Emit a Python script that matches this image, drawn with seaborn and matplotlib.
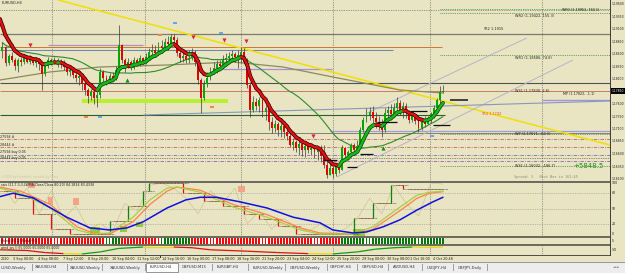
import numpy as np
import pandas as pd
import matplotlib
matplotlib.use("Agg")
import matplotlib.pyplot as plt
import seaborn as sns
from matplotlib.patches import Rectangle
from matplotlib.collections import LineCollection

sns.set_theme(style="white")
plt.rcParams['font.family'] = ['DejaVu Sans']

# ---------------- data (EURUSD H4) ----------------
first_open = 1.1866
closes = [1.1874, 1.1842, 1.1856, 1.1848, 1.1836, 1.1848, 1.1844, 1.1852, 1.1844, 1.1850,
          1.1842, 1.1848, 1.1840, 1.1820, 1.1836, 1.1848, 1.1844, 1.1848, 1.1840, 1.1844,
          1.1834, 1.1824, 1.1828, 1.1818, 1.1812, 1.1816, 1.1800, 1.1788, 1.1776, 1.1784,
          1.1772, 1.1778, 1.1824, 1.1812, 1.1808, 1.1816, 1.1812, 1.1828, 1.1878, 1.1848,
          1.1836, 1.1844, 1.1832, 1.1848, 1.1840, 1.1852, 1.1844, 1.1854, 1.1864, 1.1868,
          1.1862, 1.1876, 1.1872, 1.1884, 1.1880, 1.1894, 1.1888, 1.1862, 1.1852, 1.1856,
          1.1848, 1.1852, 1.1864, 1.1844, 1.1808, 1.1772, 1.1800, 1.1812, 1.1824, 1.1832,
          1.1840, 1.1836, 1.1848, 1.1852, 1.1856, 1.1860, 1.1854, 1.1858, 1.1864, 1.1844,
          1.1798, 1.1748, 1.1764, 1.1756, 1.1768, 1.1744, 1.1752, 1.1724, 1.1712, 1.1720,
          1.1708, 1.1716, 1.1704, 1.1696, 1.1678, 1.1684, 1.1672, 1.1680, 1.1668, 1.1676,
          1.1668, 1.1672, 1.1664, 1.1670, 1.1656, 1.1638, 1.1618, 1.1632, 1.1620, 1.1636,
          1.1628, 1.1672, 1.1658, 1.1664, 1.1678, 1.1668, 1.1676, 1.1708, 1.1728, 1.1738,
          1.1744, 1.1732, 1.1724, 1.1716, 1.1708, 1.1742, 1.1748, 1.1740, 1.1752, 1.1762,
          1.1748, 1.1756, 1.1742, 1.1728, 1.1736, 1.1726, 1.1712, 1.1724, 1.1720, 1.1732,
          1.1740, 1.1752, 1.1768, 1.1784, 1.1786]
highs = [1.1884, 1.1876, 1.1860, 1.1864, 1.1852, 1.1852, 1.1854, 1.1858, 1.1856, 1.1858,
         1.1854, 1.1852, 1.1852, 1.1844, 1.1842, 1.1854, 1.1852, 1.1854, 1.1852, 1.1850,
         1.1848, 1.1840, 1.1836, 1.1830, 1.1824, 1.1822, 1.1818, 1.1804, 1.1792, 1.1790,
         1.1788, 1.1792, 1.1832, 1.1828, 1.1818, 1.1822, 1.1824, 1.1836, 1.1918, 1.1880,
         1.1852, 1.1852, 1.1848, 1.1854, 1.1852, 1.1858, 1.1854, 1.1862, 1.1872, 1.1880,
         1.1878, 1.1884, 1.1888, 1.1892, 1.1896, 1.1900, 1.1900, 1.1894, 1.1868, 1.1864,
         1.1860, 1.1868, 1.1872, 1.1868, 1.1848, 1.1812, 1.1808, 1.1824, 1.1834, 1.1844,
         1.1848, 1.1848, 1.1858, 1.1862, 1.1864, 1.1868, 1.1864, 1.1868, 1.1874, 1.1872,
         1.1852, 1.1804, 1.1776, 1.1772, 1.1774, 1.1774, 1.1758, 1.1754, 1.1734, 1.1728,
         1.1724, 1.1722, 1.1718, 1.1714, 1.1708, 1.1692, 1.1688, 1.1686, 1.1684, 1.1682,
         1.1674, 1.1678, 1.1678, 1.1676, 1.1678, 1.1678, 1.1648, 1.1642, 1.1636, 1.1642,
         1.1642, 1.1678, 1.1674, 1.1668, 1.1682, 1.1682, 1.1688, 1.1714, 1.1734, 1.1752,
         1.1754, 1.1756, 1.1744, 1.1736, 1.1730, 1.1752, 1.1756, 1.1760, 1.1762, 1.1774,
         1.1768, 1.1764, 1.1762, 1.1748, 1.1742, 1.1740, 1.1732, 1.1730, 1.1736, 1.1736,
         1.1744, 1.1758, 1.1772, 1.1796, 1.1798]
lows = [1.1852, 1.1836, 1.1838, 1.1844, 1.1828, 1.1824, 1.1836, 1.1840, 1.1842, 1.1840,
        1.1838, 1.1834, 1.1828, 1.1788, 1.1816, 1.1832, 1.1838, 1.1840, 1.1834, 1.1832,
        1.1828, 1.1818, 1.1816, 1.1812, 1.1804, 1.1798, 1.1788, 1.1778, 1.1762, 1.1768,
        1.1760, 1.1754, 1.1772, 1.1804, 1.1798, 1.1804, 1.1806, 1.1808, 1.1824, 1.1842,
        1.1824, 1.1832, 1.1828, 1.1830, 1.1836, 1.1836, 1.1840, 1.1840, 1.1852, 1.1856,
        1.1856, 1.1858, 1.1864, 1.1868, 1.1868, 1.1876, 1.1880, 1.1856, 1.1844, 1.1844,
        1.1842, 1.1842, 1.1848, 1.1836, 1.1800, 1.1742, 1.1768, 1.1794, 1.1808, 1.1820,
        1.1822, 1.1828, 1.1832, 1.1836, 1.1844, 1.1848, 1.1844, 1.1832, 1.1842, 1.1840,
        1.1792, 1.1734, 1.1744, 1.1748, 1.1744, 1.1734, 1.1728, 1.1708, 1.1702, 1.1704,
        1.1696, 1.1694, 1.1692, 1.1688, 1.1674, 1.1668, 1.1664, 1.1658, 1.1656, 1.1654,
        1.1662, 1.1658, 1.1652, 1.1648, 1.1644, 1.1632, 1.1612, 1.1620, 1.1612, 1.1616,
        1.1622, 1.1628, 1.1648, 1.1648, 1.1654, 1.1658, 1.1664, 1.1672, 1.1704, 1.1724,
        1.1728, 1.1722, 1.1712, 1.1708, 1.1694, 1.1704, 1.1728, 1.1728, 1.1734, 1.1740,
        1.1738, 1.1732, 1.1732, 1.1722, 1.1724, 1.1720, 1.1704, 1.1708, 1.1714, 1.1720,
        1.1722, 1.1732, 1.1744, 1.1762, 1.1782]
current_price = 1.1786
fast_ma_start = 1.1930   # value of the coloured MA at the left edge
slow_ma_start = 1.1884   # value of the green MA at the left edge

# slow (olive) moving average: bar index -> price
olive_idx = [-0.8, 15.5, 31.9, 53.8, 75.3, 91.7, 108.0, 129.9, 144.0]
olive_val = [1.1808, 1.1824, 1.1834, 1.1838, 1.1844, 1.1834, 1.1814, 1.1788, 1.1782]

# horizontal levels (price)
level_prices = [1.1900, 1.1874, 1.1868, 1.1878, 1.1830, 1.1802, 1.1786, 1.1768,
                1.1738, 1.1702, 1.1706]
dash_levels = [1.1690, 1.1674, 1.1658, 1.1646]
pivot_levels = [1.1950, 1.1942, 1.1858, 1.1700, 1.1636]

# trend lines: (start index, start price, end index, end price)
yellow_line = [18.2, 1.1968, 198.6, 1.1678]
channel_a = [109.3, 1.1614, 186.5, 1.1848]
channel_b = [119.2, 1.1742, 171.4, 1.1892]
steel_line = [46.0, 1.1738, 198.6, 1.1766]

# order / target segments: (from index, to index, price)
order_segs = [(122.4, 129.0, 1.1724), (133.2, 138.7, 1.1746), (140.7, 146.3, 1.1718),
              (104.8, 109.3, 1.1648), (112.6, 115.9, 1.1634), (116.8, 121.1, 1.1660)]
target_seg = (146.3, 152.1, 1.1768)

# signal arrows (index, price)
sell_arrows_i = [9.0, 62.3, 72.4, 79.6, 101.5]
sell_arrows_p = [1.1878, 1.1894, 1.1888, 1.1886, 1.1696]
buy_arrows_i = [40.7, 124.4]
buy_arrows_p = [1.1808, 1.1672]
blue_marks_i = [56.4, 71.4, 31.9, 140.4]
blue_marks_p = [1.1922, 1.1902, 1.1734, 1.1696]
orange_marks_i = [51.5, 27.3, 68.5]
orange_marks_p = [1.1898, 1.1734, 1.1754]
zone = (26.0, 73.7, 1.1762, 1.1770)

# main price-axis labels
price_ticks = [1.1960, 1.1935, 1.1910, 1.1885, 1.1860, 1.1835, 1.1810,
               1.1760, 1.1735, 1.1710, 1.1685, 1.1660, 1.1635, 1.1610]

# oscillator (0..100)
blue_i = [-1, 3.5, 10, 21, 28.6, 35, 40.7, 46, 53.8, 60, 64.6, 70, 77.7, 86.5, 95,
          103.8, 108, 114.6, 119, 124.4, 130, 135.5, 140.7, 144]
blue_v = [73, 80, 71, 33, 12, 8, 12, 24, 51, 67, 72, 72, 63, 51, 33, 22, 8, 2, 4, 14,
          28, 47, 63, 72]
sig_i = [-1, 6, 15.6, 24.4, 29.6, 35, 42.7, 48.2, 53.8, 57, 64.6, 75.4, 86.5, 97.3,
         103.8, 114.6, 121, 130, 135.5, 139.7, 144]
green_v = [90, 80, 51, 8, 0, 2, 33, 67, 90, 92, 82, 53, 33, 8, 0, 0, 14, 53, 76, 82, 84]
orange_v = [92, 84, 58, 14, 2, 0, 24, 58, 84, 92, 86, 58, 38, 12, 2, 0, 9, 46, 70, 80, 83]
tan_i = [0, 4, 8, 12, 16, 20, 24, 28, 32, 36, 40, 44, 48, 52, 56, 60, 64, 68, 72, 76, 80,
         84, 88, 92, 96, 100, 104, 108, 112, 116, 120, 124, 128, 132, 136, 140, 144]
tan_v = [95, 60, 90, 40, 85, 30, 55, 10, 20, 5, 60, 45, 95, 100, 90, 70, 40, 85, 60, 90,
         20, 45, 10, 30, 15, 5, 20, 0, 10, 30, 70, 40, 95, 60, 35, 100, 98]
step_i = [-1, 4, 10, 16, 22, 35, 41, 46, 48, 59, 66, 72, 79, 84, 90, 96, 115, 121, 127, 131, 144]
step_v = [85, 70, 40, 10, 0, 25, 55, 85, 100, 80, 65, 55, 40, 30, 15, 0, 31, 61, 96, 88, 88]
salmon_boxes = [(8.4, 10.6, 90, 100), (14.9, 16.5, 59, 72), (23.0, 25.0, 57, 71), (77.0, 79.3, 82, 94)]
lime_boxes = [(28.6, 31.9, 0, 14), (38.4, 40.7, 4, 16), (43.6, 45.9, 14, 24), (114.6, 118.5, -4, 10)]

# trend strip (one letter per bar: R red, G green)
strip = ('R' * 34 + 'G' * 5 + 'R' * 13 + 'G' * 10 + 'R' * 49 + 'G' * 34)

# lower line indicator
small_i = [-1, 8, 14, 20, 26, 32, 38, 46, 56, 62, 68, 74, 80, 90, 100, 108, 116, 122,
           128, 134, 140, 144]
small_v = [0.6, 0.5, 0.2, 0.05, 0.0, 0.3, 0.8, 1.0, 1.0, 0.9, 0.6, 0.5, 0.4, 0.2, 0.05,
           0.0, 0.3, 0.7, 0.9, 1.0, 0.95, 1.0]

time_labels = ["2020", "3 Sep 00:00", "4 Sep 08:00", "7 Sep 12:00", "8 Sep 20:00",
               "10 Sep 04:00", "11 Sep 12:00", "14 Sep 16:00", "16 Sep 00:00",
               "17 Sep 08:00", "18 Sep 16:00", "21 Sep 20:00", "23 Sep 04:00",
               "24 Sep 12:00", "25 Sep 20:00", "29 Sep 00:00", "30 Sep 08:00",
               "1 Oct 16:00", "4 Oct 20:48"]
tabs = ["UUSD,Weekly", "XAUUSD,H4", "XAUUSD,Weekly", "XAUUSD,Weekly", "EURUSD,H4",
        "GBPUSD,M15", "EURGBP,H4", "EURUSD,Weekly", "GBPUSD,Weekly", "GBPCHF,H4",
        "GBPUSD,H4", "AUDUSD,H4", "USDJPY,H4", "GBPJPY,Daily"]

# ---------------- layout ----------------
W, H = 625, 273
BG = '#E9E5C3'
XMIN, XMAX = -0.8, 198.6
PX = 3.06  # pixels per bar


def frac(x0, y0, x1, y1):
    return [x0 / W, 1 - y1 / H, (x1 - x0) / W, (y1 - y0) / H]


fig = plt.figure(figsize=(W / 100, H / 100), dpi=100)
fig.patch.set_facecolor(BG)


def prect(x0, y0, x1, y1, color, z=0, ec='none', lw=0):
    fig.add_artist(Rectangle((x0 / W, 1 - y1 / H), (x1 - x0) / W, (y1 - y0) / H,
                             transform=fig.transFigure, facecolor=color,
                             edgecolor=ec, linewidth=lw, zorder=z))


def ptext(x, y, s, size=2.6, color='#202020', ha='left', **kw):
    fig.text(x / W, 1 - y / H, s, fontsize=size, color=color, ha=ha, va='center', **kw)


def idx_of(px):
    return px / PX - 0.8


def setup(ax):
    ax.set_facecolor(BG)
    ax.set_xlim(XMIN, XMAX)
    for s in ax.spines.values():
        s.set_visible(False)
    ax.set_xticks([])
    ax.set_yticks([])


ax = fig.add_axes(frac(0, 0, 610, 181))
ax_osc = fig.add_axes(frac(0, 183, 610, 236))
ax_strip = fig.add_axes(frac(0, 238, 610, 244))
ax_low = fig.add_axes(frac(0, 246, 610, 255))
for a in (ax, ax_osc, ax_strip, ax_low):
    setup(a)
ax.set_ylim(1.1606, 1.1968)
ax_osc.set_ylim(-3.9, 100)
ax_strip.set_ylim(0, 1)
ax_low.set_ylim(-0.15, 1.15)

grid_idx = [idx_of(p) for p in (52, 145, 241, 333, 430, 542)]
for a in (ax, ax_osc, ax_low):
    for g in grid_idx:
        a.axvline(g, color='#505050', lw=0.5, ls=(0, (1, 1.5)), zorder=1)

# ---------------- main panel ----------------
n = len(closes)
idx = np.arange(n)
c = np.array(closes)
o = np.array([first_open] + closes[:-1])
h = np.maximum.reduce([np.array(highs), o, c])
l = np.minimum.reduce([np.array(lows), o, c])

# levels
lv_style = [  # x-from, x-to, color, lw, ls
    (XMIN, XMAX, '#7A7A70', 0.9, '-'),
    (XMIN, 143.7, '#C87838', 0.7, '-'),
    (XMIN, 127.6, '#7080B0', 0.7, '-'),
    (14.9, 45.9, '#A890C8', 0.9, '-'),
    (69.5, 107.7, '#A890D8', 0.9, '-'),
    (XMIN, XMAX, '#505050', 0.8, '-'),
    (XMIN, XMAX, '#C05040', 0.5, '-'),
    (176.3, XMAX, '#A890E0', 1.0, '-'),
    (XMIN, 144.6, '#2E5E2E', 0.8, '-'),
    (XMIN, XMAX, '#808078', 0.7, '-'),
    (107.0, XMAX, '#A898D8', 0.9, '-'),
]
for p, (x0, x1, col, lw, ls) in zip(level_prices, lv_style):
    ax.hlines(p, x0, x1, color=col, lw=lw, ls=ls, zorder=2)
for p, col in zip(dash_levels, ['#C06060', '#C06060', '#9060B0', '#9060B0']):
    ax.hlines(p, XMIN, XMAX, color=col, lw=0.6, ls=(0, (4, 1.5, 1, 1.5)), zorder=2)
ax.hlines(1.1652, XMIN, XMAX, color='#303030', lw=0.5, ls=(0, (1, 1.5)), zorder=2)
ax.hlines(1.1948, XMIN, XMAX, color='#505050', lw=0.5, ls=(0, (1, 1.5)), zorder=2)
for p in pivot_levels:
    ax.hlines(p, 143.0, XMAX, color='#3C8C3C', lw=0.6, ls=(0, (1, 1.2)), zorder=2)

for ln, col, lw in [(yellow_line, '#F0E000', 1.1), (channel_a, '#B4B4C8', 0.7),
                    (channel_b, '#B4B4C8', 0.7), (steel_line, '#8898B8', 0.8)]:
    ax.plot([ln[0], ln[2]], [ln[1], ln[3]], color=col, lw=lw, zorder=3,
            solid_capstyle='butt')

ax.add_patch(Rectangle((zone[0], zone[2]), zone[1] - zone[0], zone[3] - zone[2],
                       facecolor='#B8F030', edgecolor='none', zorder=2))

# moving averages
olive_df = pd.DataFrame({'i': olive_idx, 'p': olive_val})
sns.lineplot(data=olive_df, x='i', y='p', ax=ax, color='#8E8A5C', lw=0.9,
             sort=False, estimator=None, legend=False, zorder=3)
ma_slow = pd.Series([slow_ma_start] * 6 + closes).rolling(30, min_periods=1).mean().values[6:]
sns.lineplot(x=idx, y=ma_slow, ax=ax, color='#2E8B2E', lw=0.8,
             estimator=None, legend=False, zorder=3)

# candles
up = c >= o
ax.vlines(idx, l, h, color='#3A3A3A', lw=0.5, zorder=4)
body_lo = np.minimum(o, c)
body_h = np.maximum(np.abs(c - o), 0.00012)
ax.bar(idx[up], body_h[up], bottom=body_lo[up], width=0.62, color='#00A800',
       edgecolor='none', zorder=5)
ax.bar(idx[~up], body_h[~up], bottom=body_lo[~up], width=0.62, color='#E00000',
       edgecolor='none', zorder=5)

# fast coloured MA
ma_fast = pd.Series([fast_ma_start] + closes).ewm(span=7, adjust=False).mean().values
ma_idx = np.concatenate([[-0.8], idx])
pts = np.column_stack([ma_idx, ma_fast])
segs = np.stack([pts[:-1], pts[1:]], axis=1)
rising = ma_fast[1:] >= ma_fast[:-1]
ax.add_collection(LineCollection(segs, colors=np.where(rising, '#0A4A0A', '#3A0000'),
                                 linewidths=2.8, zorder=6, capstyle='round'))
ax.add_collection(LineCollection(segs, colors=np.where(rising, '#18B818', '#E01010'),
                                 linewidths=1.7, zorder=7, capstyle='round'))

for s in order_segs:
    ax.hlines(s[2], s[0], s[1], color='#101010', lw=0.9, zorder=8)
ax.hlines(target_seg[2], target_seg[0], target_seg[1], color='#404040', lw=1.4, zorder=8)

ax.scatter(sell_arrows_i, sell_arrows_p, marker='v', s=9, color='#E02040', zorder=9,
           linewidths=0)
ax.scatter(buy_arrows_i, buy_arrows_p, marker='^', s=9, color='#109010', zorder=9,
           linewidths=0)
ax.scatter(blue_marks_i, blue_marks_p, marker='$=$', s=10, color='#60A8F0', zorder=9,
           linewidths=0)
ax.scatter(orange_marks_i, orange_marks_p, marker='$=$', s=10, color='#F08840', zorder=9,
           linewidths=0)

# price axis labels
for p in price_ticks:
    yp = (1.1968 - p) / 0.0002
    ptext(611.5, yp, f"{p:.5f}", size=2.15)
    prect(610, yp - 0.25, 611.3, yp + 0.25, '#303030', z=5)
yp = (1.1968 - current_price) / 0.0002
prect(610, yp - 2.8, 625, yp + 2.8, '#000000', z=5)
ptext(611.5, yp, f"{current_price:.5f}", size=2.15, color='white', zorder=6)

# texts in main panel
ptext(2, 3, "EURUSD,H4", size=2.5)
ptext(562, 10, "WR3 (1.19953, 160.1)", size=2.4)
ptext(515, 16, "WR2 (1.19422, 155.3)", size=2.5)
ptext(483, 29, "YR2 1.1915", size=2.5)
ptext(515, 58, "WR1 (1.18586, 74.8)", size=2.5)
ptext(515, 91, "WS1 (1.17830, 2.6)", size=2.5)
ptext(563, 94, "MP (1.17822, -1.1)", size=2.4)
ptext(481, 114, "YR4 1.1742", size=2.5, color='#F04020')
ptext(515, 134, "WP (1.17611, -62.1)", size=2.5)
ptext(515, 166, "WS1 (1.16032, -186.7)", size=2.5)
ptext(573, 166, "+5848.5", size=5.0, color='#1C8C1C')
ptext(514, 177, "Spread: 3   Next Bar in 162:45", size=2.6, color='#8A8A80',
      family='DejaVu Sans Mono')
ptext(0.5, 137, "27594 #", size=2.3)
ptext(0.5, 145, "28444 #", size=2.3)
ptext(0.5, 152, "27594 buy 0.05", size=2.3)
ptext(0.5, 158, "28444 buy 0.05", size=2.3)
ptext(1, 177, "\u00a92009 by ForexInfo, artwork by Ferru", size=2.2, color='#C8C4A8')

# ---------------- oscillator ----------------
for v in (80, 50, 20):
    ax_osc.axhline(v, color='#909088', lw=0.5, ls=(0, (1, 1.5)), zorder=1)
for (x0, x1, v0, v1) in salmon_boxes:
    ax_osc.add_patch(Rectangle((x0, v0), x1 - x0, v1 - v0, facecolor='#F4A484',
                               edgecolor='none', zorder=2))
for (x0, x1, v0, v1) in lime_boxes:
    ax_osc.add_patch(Rectangle((x0, v0), x1 - x0, v1 - v0, facecolor='#98C83C',
                               edgecolor='none', zorder=2))
sns.lineplot(x=tan_i, y=tan_v, ax=ax_osc, color='#CFC494', lw=0.5, sort=False,
             estimator=None, legend=False, zorder=3)
# stepped line: horizontal parts tan, jumps red/green
for k in range(len(step_i) - 1):
    ax_osc.hlines(step_v[k], step_i[k], step_i[k + 1], color='#C89A70', lw=0.6, zorder=4)
    ax_osc.hlines(step_v[k], step_i[k] + 1.5, step_i[k + 1] + 1.5, color='#303030',
                  lw=0.5, ls=(0, (1, 1)), zorder=4)
    col = '#108010' if step_v[k + 1] > step_v[k] else '#E01010'
    ax_osc.vlines(step_i[k + 1], step_v[k], step_v[k + 1], color=col, lw=0.9, zorder=5)
sns.lineplot(x=sig_i, y=orange_v, ax=ax_osc, color='#FF8050', lw=0.9, sort=False,
             estimator=None, legend=False, zorder=6)
sns.lineplot(x=sig_i, y=green_v, ax=ax_osc, color='#A8D040', lw=0.9, sort=False,
             estimator=None, legend=False, zorder=6)
sns.lineplot(x=blue_i, y=blue_v, ax=ax_osc, color='#1010E0', lw=1.1, sort=False,
             estimator=None, legend=False, zorder=7)
ptext(1, 185.5, "ssis (21,7,3,3,LWMA,Close/Close,80,20) 84.1834 83.4336", size=2.3)
for v in (100, 80, 50, 20, 0):
    ptext(612, 234 - v * 0.51, str(v), size=2.3)

# ---------------- trend strip ----------------
ax_strip.add_patch(Rectangle((XMIN, 0), n - 0.5 - XMIN, 1, facecolor='#FFFFFF',
                             edgecolor='none', zorder=1))
cols = ['#FF0000' if s == 'R' else '#007800' for s in strip]
ax_strip.bar(idx, [1] * n, bottom=0, width=0.62, color=cols, edgecolor='none', zorder=2)
ptext(1, 241, "Stand: 0.1.2 (Stand) 0.1", size=2.2, color='#101010', zorder=10)
ptext(612, 241, "5", size=2.3)

# ---------------- lower line ----------------
sp = np.column_stack([small_i, small_v])
ssegs = np.stack([sp[:-1], sp[1:]], axis=1)
dv = np.diff(small_v)
scol = np.where(np.abs(dv) < 0.06, '#E8D800', np.where(dv > 0, '#10A010', '#E01010'))
ax_low.add_collection(LineCollection(ssegs, colors=scol, linewidths=0.9, zorder=3))
ptext(1, 248.5, "wind_jpy () 65.0000 65.0000 65.0000", size=2.2)
ptext(612, 250, "1/0", size=2.3)

# ---------------- separators and frame ----------------
prect(0, 181, 610, 183, '#6E6C60', z=5)
prect(0, 236, 610, 238, '#6E6C60', z=5)
prect(0, 244, 610, 246, '#6E6C60', z=5)
prect(0, 255, 610, 256, '#505050', z=5)
prect(609.5, 0, 610.5, 256, '#404040', z=5)

# time axis
starts = [0.5, 13, 38, 63, 88, 112, 137, 162, 187, 212, 237, 262, 287, 312, 337, 362,
          387, 410, 433]
for s, lab in zip(starts, time_labels):
    ptext(s, 259, lab, size=2.4)
    prect(s - 1.5, 256, s - 1, 258, '#303030', z=5)

# tab bar
prect(0, 262, 625, 273, '#EDEDED', z=1)
prect(0, 262, 625, 262.8, '#9A9A9A', z=2)
tab_x = [1, 35, 70, 110, 150, 182, 217, 253, 290, 330, 362, 393, 427, 458]
seps = [32, 67, 102, 145, 212, 248, 285, 327, 357, 388, 422, 453, 487]
prect(146, 263, 178, 272, '#FFFFFF', z=2, ec='#707070', lw=0.5)
for x, t in zip(tab_x, tabs):
    ptext(x, 267.5, t, size=2.7, color='#303030', zorder=4)
for s in seps:
    prect(s, 264, s + 0.6, 271, '#A0A0A0', z=3)
ptext(613, 267.5, "\u25c4 \u25ba", size=2.4, color='#606060', zorder=4)

fig.savefig("out.png", dpi=100, facecolor=BG)
